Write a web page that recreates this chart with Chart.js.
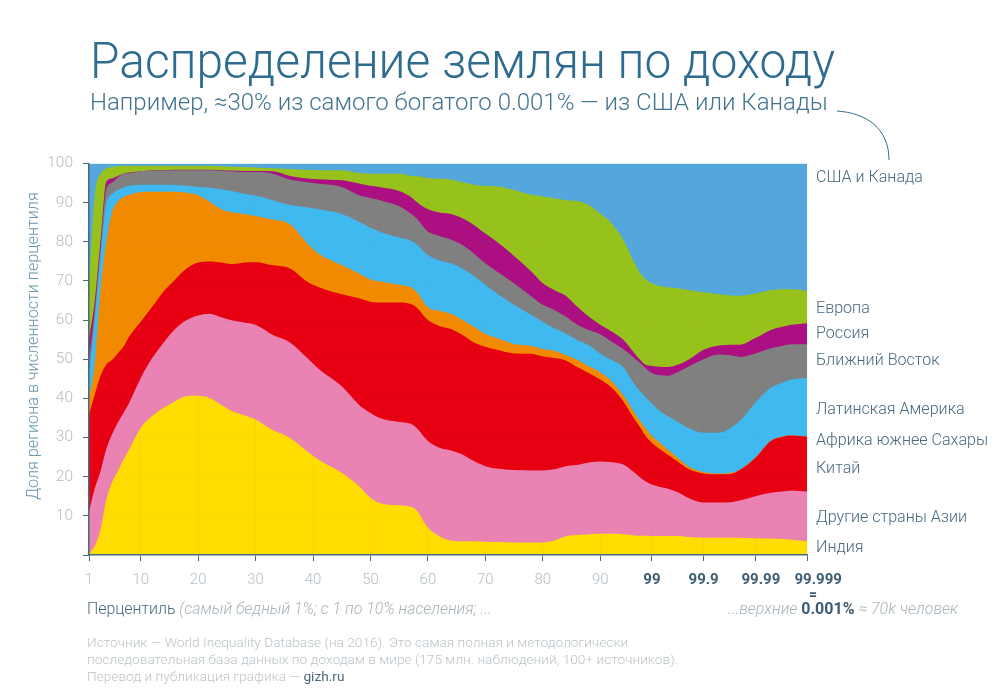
<!DOCTYPE html>
<html lang="ru">
<head>
<meta charset="utf-8">
<title>Распределение землян по доходу</title>
<script src="https://cdn.jsdelivr.net/npm/chart.js@4/dist/chart.umd.min.js"></script>
<style>
  html, body { margin: 0; background: #fff; }
  body { position: relative; width: 1000px; height: 700px; overflow: hidden; font-family: Roboto, sans-serif; font-weight: 300; }
  canvas { position: absolute; left: 0; top: 0; }
  .t { position: absolute; white-space: nowrap; line-height: 1; }
  #title { left: 90px; top: 36px; font-size: 50.5px; color: #2d6c8e; transform: scaleX(0.948); transform-origin: left top; }
  #subtitle { left: 90px; top: 90px; font-size: 24px; color: #43748f; }
  #ytitle { left: 33px; top: 346px; font-size: 16.2px; color: #6a97ad; transform: translate(-50%, -50%) rotate(-90deg); }
  .region { left: 816px; font-size: 16.1px; color: #47697c; transform: translateY(-50%); }
  #pct { left: 87px; top: 601px; font-size: 15.9px; color: #47697c; }
  #pct i, #top i { color: #a8b3ba; }
  #top { left: 728px; top: 601px; font-size: 16px; }
  #top b { color: #3d5d72; font-weight: 700; }
  #eq { left: 809px; top: 587px; font-size: 14px; font-weight: 700; color: #3d5d72; }
  #source { left: 87px; top: 634px; font-size: 13.7px; line-height: 17px; color: #bcc4c9; white-space: nowrap; position: absolute; }
  #source b { color: #47697c; font-weight: 400; }
  svg { position: absolute; left: 0; top: 0; }
</style>
</head>
<body>
<canvas id="chart" width="1000" height="700"></canvas>
<svg width="1000" height="700"><path d="M837 111 C 866 113, 889 128, 889 160" fill="none" stroke="#2d6c8e" stroke-width="1"/></svg>

<div class="t" id="title">Распределение землян по доходу</div>
<div class="t" id="subtitle">Например, ≈30% из самого богатого 0.001% — из США или Канады</div>
<div class="t" id="ytitle">Доля региона в численности перцентиля</div>
<div id="regionLabels"></div>
<div class="t" id="pct">Перцентиль <i>(самый бедный 1%; с 1 по 10% населения; ...</i></div>
<div class="t" id="top"><i>...верхние</i> <b>0.001%</b> <i>≈ 70k человек</i></div>
<div class="t" id="eq">=</div>
<div id="source">Источник — World Inequality Database (на 2016). Это самая полная и методологически<br>последовательная база данных по доходам в мире (175 млн. наблюдений, 100+ источников).<br>Перевод и публикация графика — <b>gizh.ru</b></div>

<script>
// Percentiles the bands were read at
const percentiles = [1, 2, 3, 4, 5, 6, 7, 8,
  10, 12, 14, 16, 18, 20, 22, 24, 26, 28, 30,
  33, 36, 39, 41,
  45, 48, 50, 52, 55, 57, 58,
  60, 62, 64, 66, 68, 70, 72,
  75, 78, 80, 82, 84, 86, 88, 90, 92, 94,
  96, 97, 98, 99,
  99.3, 99.5, 99.7, 99.8, 99.9,
  99.95, 99.97, 99.98, 99.99,
  99.995, 99.997, 99.998, 99.999];

// Upper edge of each band (cumulative %)
const indiaTop = [0.3, 2.3, 6.5, 14, 18.5, 21.4, 24.4, 27,
  32.5, 35.5, 37.6, 39.3, 40.6, 40.7, 40.1, 38.4, 36.7, 35.7, 34.6,
  31.9, 29.9, 26.5, 24.3,
  21, 17.6, 14.6, 13.1, 12.7, 12.3, 11.5,
  7, 4.8, 3.7, 3.5, 3.5, 3.4, 3.3,
  3.2, 3.2, 3.2, 3.7, 4.8, 5.1, 5.3, 5.4, 5.4, 5.3,
  5, 4.9, 4.9, 4.85,
  4.85, 4.85, 4.85, 4.6, 4.4,
  4.4, 4.4, 4.4, 4.3,
  4.2, 4.1, 3.9, 3.5];
const otherAsiaTop = [11.2, 17, 21.4, 27, 30.8, 33.8, 36.3, 38.9,
  45.2, 50.3, 54.3, 57.7, 60, 61.2, 61.6, 60.7, 59.9, 59.4, 58.8,
  56.2, 54.3, 50.3, 47.5,
  43.1, 38.4, 36.3, 34.8, 34, 33.5, 32.5,
  29.1, 27.4, 26.7, 25.7, 24, 22.7, 22.1,
  21.7, 21.6, 21.6, 21.9, 22.7, 23, 23.6, 23.9, 23.7, 23.1,
  21, 19.7, 18.7, 18,
  17.4, 17, 15.9, 14.6, 13.4,
  13.4, 13.5, 13.9, 15,
  15.9, 16.2, 16.5, 16.2];
const chinaTop = [35.9, 41, 45.7, 48.6, 49.8, 51.5, 53.2, 55.8,
  59.6, 63.4, 67.3, 70.4, 73.2, 74.7, 75, 74.7, 74.3, 74.7, 74.8,
  74, 73.2, 69.8, 68.4,
  66.6, 65.6, 64.7, 64.5, 64.5, 64.1, 63.3,
  60, 58.5, 57.7, 56.2, 54.3, 53.2, 52.4,
  51.5, 51.4, 50.7, 50.3, 49.7, 48, 46.5, 44.8, 42.7, 39.3,
  34.6, 32.5, 30.2, 28.7,
  27, 25.7, 23.6, 22, 20.8,
  20.6, 20.7, 21.7, 24.8,
  29.1, 30.2, 30.5, 30.2];
const africaTop = [40, 49, 67.7, 80, 87.5, 90.2, 91.5, 92,
  92.7, 92.8, 92.8, 92.8, 92.5, 91.9, 90.2, 88.3, 87.5, 87.1, 86.6,
  85.7, 84.5, 79.6, 76.9,
  74.1, 71.9, 70.4, 69.8, 69, 68.4, 67.3,
  63.3, 62.4, 61.6, 60, 58.3, 56.5, 55.4,
  53.9, 53.4, 52.6, 52.2, 51.1, 49.9, 48.2, 46.7, 44.4, 40.8,
  36.3, 34.1, 32.2, 30.4,
  28.7, 27, 24.6, 22.7, 21.2,
  20.8, 21, 21.8, 24.9,
  29.2, 30.3, 30.6, 30.3];
const latinTop = [46, 60, 76.2, 89.8, 92.2, 93.2, 93.9, 94.3,
  94.6, 94.6, 94.6, 94.5, 94.3, 94, 93.8, 93.4, 92.9, 92.3, 91.8,
  90.6, 89.4, 88.8, 88.3,
  87.1, 85.1, 83.6, 82.4, 81.1, 80.3, 79.4,
  76.6, 75.2, 74.5, 73.2, 71.3, 69, 66.8,
  63.9, 61.3, 59.6, 57.9, 56.6, 54.9, 53.6, 51.5, 49.8, 48,
  43.5, 41.8, 40.1, 38.7,
  36.7, 35.5, 33.8, 32.5, 31.2,
  31.2, 32.5, 34.2, 38.9,
  42.7, 44, 44.8, 45.2];
const middleEastTop = [50, 62.6, 78.3, 93.4, 95.1, 96.4, 97.3, 97.5,
  98, 98.2, 98.2, 98.3, 98.3, 98.3, 98.3, 98.1, 98, 97.8, 97.8,
  97.4, 95.9, 95.2, 94.8,
  94, 91.9, 91.2, 90.5, 89.1, 87.2, 86,
  82.6, 81.5, 80.6, 79.2, 77, 74.5, 72.4,
  69.4, 66, 63.9, 62.6, 60.9, 58.8, 57.5, 56.4, 54.5, 52.6,
  50.2, 49, 47.6, 46.5,
  45.9, 45.8, 46.9, 48.1, 50,
  51.2, 51, 50.6, 51.5,
  52.8, 53.4, 53.8, 53.8];
const russiaTop = [55, 65, 80.4, 95.3, 96.2, 96.8, 97.4, 97.7,
  98, 98.3, 98.3, 98.4, 98.4, 98.4, 98.4, 98.3, 98.2, 98.1, 98.1,
  98, 96.8, 96.2, 96,
  95.7, 94.9, 94.3, 93.9, 93, 91.5, 90.2,
  88.3, 87.5, 87.1, 86, 84.3, 82.1, 80,
  76.4, 72.4, 69.4, 67.7, 66.2, 63.4, 60.9, 58.8, 57.1, 55,
  51.5, 49.8, 48.5, 48.3,
  48.1, 48, 48.7, 49.8, 52.4,
  53.5, 53.7, 53.7, 55.4,
  57.5, 58.3, 58.8, 59.2];
const europeTop = [69, 92, 97.3, 98.7, 99.1, 99.3, 99.4, 99.4,
  99.4, 99.4, 99.4, 99.4, 99.4, 99.4, 99.4, 99.3, 99.2, 99.1, 99,
  98.8, 98.6, 98.4, 98.3,
  98.3, 97.6, 97.4, 97.4, 97.4, 96.9, 96.8,
  96.3, 96.1, 95.9, 95.2, 94.6, 94.3, 94.2,
  93.2, 92, 91.6, 91.1, 90.6, 90.4, 89.4, 87.2, 84.7, 80.6,
  74.5, 71.9, 70.4, 69.4,
  68.7, 68.4, 68.1, 67.7, 67.1,
  66.6, 66.3, 66.2, 66.8,
  67.7, 67.9, 67.9, 67.5];
const usaTop = [100, 100, 100, 100, 100, 100, 100, 100,
  100, 100, 100, 100, 100, 100, 100, 100, 100, 100, 100,
  100, 100, 100, 100,
  100, 100, 100, 100, 100, 100, 100,
  100, 100, 100, 100, 100, 100, 100,
  100, 100, 100, 100, 100, 100, 100, 100, 100, 100,
  100, 100, 100, 100,
  100, 100, 100, 100, 100,
  100, 100, 100, 100,
  100, 100, 100, 100];

const regionNames = ['Индия', 'Другие страны Азии', 'Китай', 'Африка южнее Сахары', 'Латинская Америка', 'Ближний Восток', 'Россия', 'Европа', 'США и Канада'];
const regionTops = [indiaTop, otherAsiaTop, chinaTop, africaTop, latinTop, middleEastTop, russiaTop, europeTop, usaTop];
const regionColors = ['#FFDD00', '#EB82B4', '#E60012', '#F28A00', '#3FB9EF', '#808080', '#AB0F82', '#97C11B', '#53A7DD'];
const regionLabelY = [547, 517, 468, 440, 409, 360, 333, 308, 177];

const xTickPercentiles = [1, 10, 20, 30, 40, 50, 60, 70, 80, 90, 99, 99.9, 99.99, 99.999];
// leading spaces nudge the last two labels right of their ticks, as in the original
const xTickLabels = ['1', '10', '20', '30', '40', '50', '60', '70', '80', '90', '99', '99.9', '   99.99', '      99.999'];

// Axis is linear up to 99, then every extra nine gets the same width
function toAxis(p) {
  return p <= 99 ? p : 99 + 9 * -Math.log10(100 - p);
}

regionNames.forEach((name, i) => {
  const el = document.createElement('div');
  el.className = 't region';
  el.style.top = regionLabelY[i] + 'px';
  el.textContent = name;
  document.getElementById('regionLabels').appendChild(el);
});

const datasets = regionNames.map((name, i) => ({
  label: name,
  data: regionTops[i].map((v, j) => ({ x: toAxis(percentiles[j]), y: v })),
  backgroundColor: regionColors[i],
  borderWidth: 0,
  pointRadius: 0,
  fill: 'origin',           // lower bands are painted over the higher ones
  cubicInterpolationMode: 'monotone'
}));

new Chart(document.getElementById('chart'), {
  type: 'line',
  data: { datasets },
  options: {
    responsive: false,
    devicePixelRatio: 1,
    animation: false,
    layout: { padding: { left: 0, right: 193, top: 163.5, bottom: 115 } },
    plugins: { legend: { display: false }, title: { display: false }, tooltip: { enabled: false } },
    scales: {
      x: {
        type: 'linear',
        min: toAxis(1),
        max: toAxis(99.999),
        afterBuildTicks: scale => {
          scale.ticks = xTickPercentiles.map(p => ({ value: toAxis(p) }));
        },
        afterFit: scale => { scale.height = 30; },
        border: { z: 1, color: '#4a6b7d', width: 1.5 },
        grid: { z: 1, color: 'rgba(120,120,120,0.05)', tickColor: '#4a6b7d', tickLength: 6 },
        ticks: {
          autoSkip: false,
          maxRotation: 0,
          padding: 10,
          callback: (value, index) => xTickLabels[index],
          color: ctx => ctx.index >= 10 ? '#3d5d72' : '#b3bdc4',
          font: ctx => ctx.index >= 10
            ? { family: 'Roboto', size: 15, weight: '700' }
            : { family: 'Roboto', size: 15, weight: '300' }
        }
      },
      y: {
        min: 0,
        max: 100,
        afterFit: scale => { scale.width = 89; },
        border: { z: 1, color: '#4a6b7d', width: 1.5 },
        grid: { z: 1, color: 'rgba(120,120,120,0.05)', tickColor: '#4a6b7d', tickLength: 6 },
        ticks: {
          stepSize: 10,
          padding: 10,
          callback: value => value === 0 ? '' : value,
          color: '#b3bdc4',
          font: { family: 'Roboto', size: 15.5, weight: '300' }
        }
      }
    }
  }
});
</script>
</body>
</html>
